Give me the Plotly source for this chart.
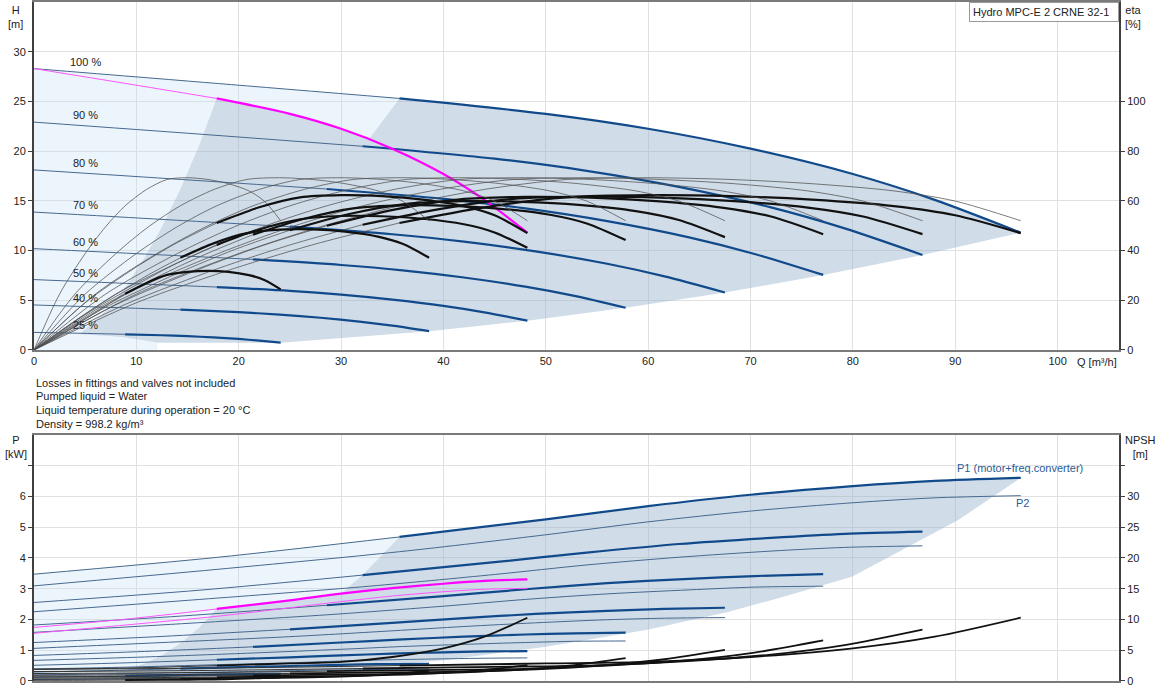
import plotly.graph_objects as go

# ---------------- data ----------------
SPEEDS = ["100 %", "90 %", "80 %", "70 %", "60 %", "50 %", "40 %", "25 %"]

# two pumps in operation: flow points for H, P1, P2 and NPSH curves
Q_2P = {
    "100 %": [0, 18, 35.7, 50, 60, 70, 80, 88, 96.4],
    "90 %": [0, 16.2, 32.1, 45, 54, 63, 72, 79.2, 86.8],
    "80 %": [0, 14.4, 28.6, 40, 48, 56, 64, 70.4, 77.1],
    "70 %": [0, 12.6, 25, 35, 42, 49, 56, 61.6, 67.5],
    "60 %": [0, 10.8, 21.4, 30, 36, 42, 48, 52.8, 57.8],
    "50 %": [0, 9, 17.85, 25, 30, 35, 40, 44, 48.2],
    "40 %": [0, 7.2, 14.3, 20, 24, 28, 32, 35.2, 38.6],
    "25 %": [0, 4.5, 8.9, 12.5, 15, 17.5, 20, 22, 24.1],
}
H_2P = {
    "100 %": [28.3, 26.8, 25.3, 23.75, 22.25, 20.25, 17.7, 15.1, 11.8],
    "90 %": [22.92, 21.71, 20.49, 19.24, 18.02, 16.4, 14.34, 12.23, 9.56],
    "80 %": [18.11, 17.15, 16.19, 15.2, 14.24, 12.96, 11.33, 9.66, 7.55],
    "70 %": [13.87, 13.13, 12.4, 11.64, 10.9, 9.92, 8.67, 7.4, 5.78],
    "60 %": [10.19, 9.65, 9.11, 8.55, 8.01, 7.29, 6.37, 5.44, 4.25],
    "50 %": [7.08, 6.7, 6.33, 5.94, 5.56, 5.06, 4.43, 3.78, 2.95],
    "40 %": [4.53, 4.29, 4.05, 3.8, 3.56, 3.24, 2.83, 2.42, 1.89],
    "25 %": [1.77, 1.68, 1.58, 1.48, 1.39, 1.27, 1.11, 0.94, 0.74],
}
P1_2P = {
    "100 %": [3.47, 4.02, 4.68, 5.25, 5.68, 6.05, 6.33, 6.5, 6.6],
    "90 %": [2.55, 2.95, 3.44, 3.86, 4.17, 4.45, 4.65, 4.78, 4.85],
    "80 %": [1.82, 2.11, 2.46, 2.76, 2.98, 3.18, 3.32, 3.41, 3.47],
    "70 %": [1.25, 1.45, 1.68, 1.89, 2.04, 2.18, 2.28, 2.34, 2.38],
    "60 %": [0.83, 0.96, 1.11, 1.25, 1.35, 1.44, 1.51, 1.55, 1.57],
    "50 %": [0.51, 0.59, 0.69, 0.77, 0.83, 0.89, 0.93, 0.96, 0.97],
    "40 %": [0.29, 0.34, 0.4, 0.45, 0.48, 0.51, 0.54, 0.55, 0.56],
    "25 %": [0.12, 0.14, 0.16, 0.18, 0.2, 0.21, 0.22, 0.23, 0.23],
}
P2_2P = {
    "100 %": [3.09, 3.63, 4.2, 4.75, 5.17, 5.52, 5.79, 5.95, 6.02],
    "90 %": [2.25, 2.65, 3.06, 3.46, 3.77, 4.02, 4.22, 4.34, 4.39],
    "80 %": [1.58, 1.86, 2.15, 2.43, 2.65, 2.83, 2.96, 3.05, 3.08],
    "70 %": [1.06, 1.25, 1.44, 1.63, 1.77, 1.89, 1.99, 2.04, 2.06],
    "60 %": [0.67, 0.78, 0.91, 1.03, 1.12, 1.19, 1.25, 1.29, 1.3],
    "50 %": [0.39, 0.45, 0.53, 0.59, 0.65, 0.69, 0.72, 0.74, 0.75],
    "40 %": [0.2, 0.23, 0.27, 0.3, 0.33, 0.35, 0.37, 0.38, 0.39],
    "25 %": [0.048, 0.057, 0.066, 0.074, 0.081, 0.087, 0.091, 0.093, 0.094],
}
NPSH_2P = {
    "100 %": [1.9, 2.1, 2.5, 2.85, 3.1, 3.9, 5.3, 7.2, 10.28],
    "90 %": [1.54, 1.7, 2.03, 2.31, 2.51, 3.16, 4.29, 5.83, 8.33],
    "80 %": [1.22, 1.34, 1.6, 1.82, 1.98, 2.5, 3.39, 4.61, 6.58],
    "70 %": [0.93, 1.03, 1.23, 1.4, 1.52, 1.91, 2.6, 3.53, 5.04],
    "60 %": [0.68, 0.76, 0.9, 1.03, 1.12, 1.4, 1.91, 2.59, 3.7],
    "50 %": [0.48, 0.53, 0.63, 0.71, 0.78, 0.98, 1.33, 1.8, 2.57],
    "40 %": [0.3, 0.34, 0.4, 0.46, 0.5, 0.62, 0.85, 1.15, 1.64],
    "25 %": [0.12, 0.13, 0.16, 0.18, 0.19, 0.24, 0.33, 0.45, 0.64],
}

# efficiency curves (two pumps)
Q_ETA_2P = {
    "100 %": [0, 10, 20, 28, 35.7, 44, 52, 60, 68, 76, 84, 90, 96.4],
    "90 %": [0, 9, 18, 25.2, 32.1, 39.6, 46.8, 54, 61.2, 68.4, 75.6, 81, 86.8],
    "80 %": [0, 8, 16, 22.4, 28.6, 35.2, 41.6, 48, 54.4, 60.8, 67.2, 72, 77.1],
    "70 %": [0, 7, 14, 19.6, 25, 30.8, 36.4, 42, 47.6, 53.2, 58.8, 63, 67.5],
    "60 %": [0, 6, 12, 16.8, 21.4, 26.4, 31.2, 36, 40.8, 45.6, 50.4, 54, 57.8],
    "50 %": [0, 5, 10, 14, 17.85, 22, 26, 30, 34, 38, 42, 45, 48.2],
    "40 %": [0, 4, 8, 11.2, 14.3, 17.6, 20.8, 24, 27.2, 30.4, 33.6, 36, 38.6],
    "25 %": [0, 2.5, 5, 7, 8.9, 11, 13, 15, 17, 19, 21, 22.5, 24.1],
}
ETA_HYD = [0, 22.5, 38.8, 49.6, 58.0, 64.6, 68.6, 69.3, 68.6, 66.9, 64.0, 59.9, 52.0]
ETA_TOT_2P = {
    "100 %": [0, 19.0, 33.4, 43.2, 51.1, 57.4, 61.4, 62.3, 61.9, 60.5, 57.9, 54.2, 47.0],
    "90 %": [0, 18.5, 32.8, 42.5, 50.4, 56.7, 60.8, 61.7, 61.3, 59.9, 57.3, 53.7, 46.6],
    "80 %": [0, 18.2, 32.3, 42.1, 50.0, 56.5, 60.6, 61.6, 61.3, 59.9, 57.3, 53.7, 46.6],
    "70 %": [0, 17.2, 30.8, 40.4, 48.2, 54.7, 58.8, 59.9, 59.6, 58.4, 55.9, 52.3, 45.4],
    "60 %": [0, 16.1, 29.3, 38.6, 46.4, 52.8, 57.0, 58.2, 58.0, 56.8, 54.4, 50.9, 44.2],
    "50 %": [0, 14.2, 26.2, 35.0, 42.3, 48.5, 52.6, 53.9, 53.8, 52.8, 50.6, 47.3, 41.1],
    "40 %": [0, 11.7, 22.4, 30.3, 37.1, 43.0, 47.0, 48.4, 48.5, 47.6, 45.6, 42.7, 37.1],
    "25 %": [0, 5.8, 12.4, 17.7, 22.6, 27.0, 30.2, 31.4, 31.8, 31.4, 30.1, 28.2, 24.4],
}

# one pump at 100 % speed (magenta / extra curves)
Q_1P = [0, 9, 17.85, 25, 30, 35, 40, 44, 48.2]
H_1P = [28.3, 26.8, 25.3, 23.75, 22.25, 20.25, 17.7, 15.1, 11.8]
P1_1P = [1.74, 2.01, 2.34, 2.62, 2.84, 3.02, 3.16, 3.25, 3.3]
P2_1P = [1.55, 1.82, 2.1, 2.38, 2.58, 2.76, 2.9, 2.98, 3.01]
NPSH_1P = [1.9, 2.1, 2.5, 2.85, 3.1, 3.9, 5.3, 7.2, 10.28]
Q_ETA_1P = [0, 5, 10, 14, 17.85, 22, 26, 30, 34, 38, 42, 45, 48.2]
ETA_TOT_1P = [0, 19.0, 33.4, 43.2, 51.1, 57.4, 61.4, 62.3, 61.9, 60.5, 57.9, 54.2, 47.0]

# operating areas
TOP_GRAY_Q = [17.85, 20, 25, 30, 32.7, 34, 35.7, 40, 45, 50, 55, 60, 65, 70, 75, 80, 84, 88, 92, 96.4,
              86.8, 77.1, 67.5, 57.8, 48.2, 38.6, 24.1, 12.05, 11, 10, 8.75, 7.5, 6.25, 4.46,
              7.14, 8.93, 10.7, 12.5, 14.3, 16.1, 17.85]
TOP_GRAY_H = [25.3, 24.83, 23.75, 22.25, 21.2, 22.95, 25.3, 24.83, 24.29, 23.75, 23.0, 22.25, 21.25, 20.25, 19.0, 17.7, 16.4, 15.1, 13.55, 11.8,
              9.56, 7.55, 5.78, 4.25, 2.95, 1.89, 0.74, 0.74, 0.94, 1.11, 1.27, 1.39, 1.48, 1.58,
              4.05, 6.33, 9.11, 12.4, 16.19, 20.5, 25.3]
TOP_LIGHT_Q = [0, 0, 18, 35.7, 34, 32.7, 30, 25, 20, 17.85, 16.1, 14.3, 12.5, 10.7, 8.93, 7.14, 4.46,
               6.25, 7.5, 8.75, 10, 11, 12.05, 12.05, 0]
TOP_LIGHT_H = [0, 28.3, 26.8, 25.3, 22.95, 21.2, 22.25, 23.75, 24.83, 25.3, 20.5, 16.19, 12.4, 9.11, 6.33, 4.05, 1.58,
               1.48, 1.39, 1.27, 1.11, 0.94, 0.74, 0, 0]
BOT_GRAY_Q = [35.7, 45, 50, 60, 70, 80, 88, 96.4, 90.3, 79.9, 72.8, 67.9, 59.8, 50, 40.3, 30, 24.1, 12.05, 4.46,
              7.14, 8.93, 10.7, 12.5, 14.3, 16.1, 17.85, 20, 25, 30, 32.1, 35.7]
BOT_GRAY_P = [4.68, 5.06, 5.25, 5.68, 6.05, 6.33, 6.5, 6.6, 5.23, 3.39, 2.7, 2.25, 1.66, 1.11, 0.68, 0.38, 0.23, 0.115, 0.082,
              0.2, 0.34, 0.56, 0.84, 1.23, 1.72, 2.34, 2.42, 2.62, 2.84, 3.44, 4.68]
BOT_LIGHT_Q = [0, 0, 18, 35.7, 32.1, 30, 25, 20, 17.85, 16.1, 14.3, 12.5, 10.7, 8.93, 7.14, 4.46, 12.05, 12.05, 0]
BOT_LIGHT_P = [0, 3.47, 4.02, 4.68, 3.44, 2.84, 2.62, 2.42, 2.34, 1.72, 1.23, 0.84, 0.56, 0.34, 0.2, 0.082, 0.115, 0, 0]

Q_TICKS = [0, 10, 20, 30, 40, 50, 60, 70, 80, 90, 100]
H_TICKS = [0, 5, 10, 15, 20, 25, 30]
ETA_TICKS = [0, 20, 40, 60, 80, 100]
P_TICKS = [0, 1, 2, 3, 4, 5, 6, 7]
P_LABELS = ["0", "1", "2", "3", "4", "5", "6", ""]
NPSH_TICKS = [0, 5, 10, 15, 20, 25, 30, 35]
NPSH_LABELS = ["0", "5", "10", "15", "20", "25", "30", ""]

NOTES = ["Losses in fittings and valves not included",
         "Pumped liquid = Water",
         "Liquid temperature during operation = 20 \u00b0C",
         "Density = 998.2 kg/m\u00b3"]
TITLE_BOX = "Hydro MPC-E 2 CRNE 32-1"

MIN_HP = 2    # index where the operating (thick) part starts
MIN_ETA = 4

# ---------------- styles ----------------
FONT = "Liberation Sans, Arial, sans-serif"
BLUE_THICK = "#114A8B"
BLUE_THIN = "#46698F"
BLACK = "#111111"
ETA_THIN = "rgba(80,80,80,0.75)"
MAGENTA = "#FF00FF"
MAGENTA_THIN = "#FF55FF"
GRAY_FILL = "rgba(150,178,205,0.45)"
LIGHT_FILL = "rgba(200,225,245,0.32)"
GRID = "#E0E0E0"

fig = go.Figure()


def line(x, y, xa, ya, color, width):
    fig.add_trace(go.Scatter(x=x, y=y, mode="lines", xaxis=xa, yaxis=ya,
                             line=dict(color=color, width=width, shape="spline", smoothing=0.8),
                             hoverinfo="skip", showlegend=False))


def area(x, y, xa, ya, color):
    fig.add_trace(go.Scatter(x=x, y=y, mode="lines", fill="toself", fillcolor=color,
                             xaxis=xa, yaxis=ya, line=dict(width=0),
                             hoverinfo="skip", showlegend=False))


# ---------- top panel ----------
area(TOP_LIGHT_Q, TOP_LIGHT_H, "x", "y", LIGHT_FILL)
area(TOP_GRAY_Q, TOP_GRAY_H, "x", "y", GRAY_FILL)

for s in SPEEDS:
    q, h = Q_2P[s], H_2P[s]
    line(q[:MIN_HP + 1], h[:MIN_HP + 1], "x", "y", BLUE_THIN, 1)
    line(q[MIN_HP:], h[MIN_HP:], "x", "y", BLUE_THICK, 2.2)

line(Q_1P[:MIN_HP + 1], H_1P[:MIN_HP + 1], "x", "y", MAGENTA_THIN, 1)
line(Q_1P[MIN_HP:], H_1P[MIN_HP:], "x", "y", MAGENTA, 2.2)

for s in SPEEDS:
    qe = Q_ETA_2P[s]
    line(qe, ETA_HYD, "x", "y2", ETA_THIN, 1)
    et = ETA_TOT_2P[s]
    line(qe[:MIN_ETA + 1], et[:MIN_ETA + 1], "x", "y2", ETA_THIN, 1)
    line(qe[MIN_ETA:], et[MIN_ETA:], "x", "y2", BLACK, 2.2)

line(Q_ETA_1P[:MIN_ETA + 1], ETA_TOT_1P[:MIN_ETA + 1], "x", "y2", ETA_THIN, 1)
line(Q_ETA_1P[MIN_ETA:], ETA_TOT_1P[MIN_ETA:], "x", "y2", BLACK, 2.2)

# ---------- bottom panel ----------
area(BOT_LIGHT_Q, BOT_LIGHT_P, "x2", "y3", LIGHT_FILL)
area(BOT_GRAY_Q, BOT_GRAY_P, "x2", "y3", GRAY_FILL)

for s in SPEEDS:
    q = Q_2P[s]
    line(q, P2_2P[s], "x2", "y3", BLUE_THIN, 1)
    p1 = P1_2P[s]
    line(q[:MIN_HP + 1], p1[:MIN_HP + 1], "x2", "y3", BLUE_THIN, 1)
    line(q[MIN_HP:], p1[MIN_HP:], "x2", "y3", BLUE_THICK, 2.2)

line(Q_1P, P2_1P, "x2", "y3", MAGENTA_THIN, 1)
line(Q_1P[:MIN_HP + 1], P1_1P[:MIN_HP + 1], "x2", "y3", MAGENTA_THIN, 1)
line(Q_1P[MIN_HP:], P1_1P[MIN_HP:], "x2", "y3", MAGENTA, 2.2)

for s in SPEEDS:
    q, n = Q_2P[s], NPSH_2P[s]
    line(q[:MIN_HP + 1], n[:MIN_HP + 1], "x2", "y4", "#333333", 1)
    line(q[MIN_HP:], n[MIN_HP:], "x2", "y4", BLACK, 1.8)
line(Q_1P[:MIN_HP + 1], NPSH_1P[:MIN_HP + 1], "x2", "y4", "#333333", 1)
line(Q_1P[MIN_HP:], NPSH_1P[MIN_HP:], "x2", "y4", BLACK, 1.8)

# ---------------- layout ----------------
tick_font = dict(family=FONT, size=11, color="#222222")
x_common = dict(range=[0, 106], tickvals=Q_TICKS, showgrid=True, gridcolor=GRID, gridwidth=1,
                showline=True, linecolor="#7a7a7a", linewidth=1.5, mirror=True,
                zeroline=False, ticks="", tickfont=tick_font)
y_common = dict(showline=True, linecolor="#404040", linewidth=2, zeroline=False,
                ticks="outside", ticklen=4, tickcolor="#404040", tickfont=tick_font)

TOP_DOMAIN = [0.4875, 1.0]
BOT_DOMAIN = [0.0, 0.3627]

fig.update_layout(
    width=1162, height=700,
    margin=dict(l=34, r=43, t=0, b=19),
    paper_bgcolor="white", plot_bgcolor="white",
    showlegend=False,
    font=dict(family=FONT, size=11, color="#222222"),
    xaxis=dict(domain=[0, 1], anchor="y", **x_common),
    yaxis=dict(domain=TOP_DOMAIN, anchor="x", range=[0, 35], tickvals=H_TICKS,
               showgrid=True, gridcolor=GRID, **y_common),
    yaxis2=dict(overlaying="y", anchor="x", side="right", range=[0, 140], tickvals=ETA_TICKS,
                showgrid=False, **y_common),
    xaxis2=dict(domain=[0, 1], anchor="y3", showticklabels=False, **x_common),
    yaxis3=dict(domain=BOT_DOMAIN, anchor="x2", range=[0, 8], tickvals=P_TICKS, ticktext=P_LABELS,
                showgrid=True, gridcolor=GRID, **y_common),
    yaxis4=dict(overlaying="y3", anchor="x2", side="right", range=[0, 40], tickvals=NPSH_TICKS,
                ticktext=NPSH_LABELS, showgrid=False, **y_common),
)

ann = []
small = dict(family=FONT, size=11, color="#222222")
for s in SPEEDS:
    ann.append(dict(x=5, y=H_2P[s][0] + 0.7, xref="x", yref="y", text=s, showarrow=False,
                    font=small, xanchor="center", yanchor="middle"))
ann.append(dict(x=-0.0166, y=1.0, xref="paper", yref="paper", text="H<br>[m]", showarrow=False,
                font=small, xanchor="center", yanchor="top", align="center"))
ann.append(dict(x=1.0129, y=1.0, xref="paper", yref="paper", text="eta<br>[%]", showarrow=False,
                font=small, xanchor="center", yanchor="top", align="center"))
ann.append(dict(x=0.9594, y=0.4699, xref="paper", yref="paper", text="Q [m\u00b3/h]", showarrow=False,
                font=small, xanchor="left", yanchor="middle"))
ann.append(dict(x=1.0, y=1.0, xref="paper", yref="paper", text=TITLE_BOX, showarrow=False,
                font=small, xanchor="right", yanchor="top", align="left",
                bordercolor="#9a9a9a", borderwidth=1, borderpad=3, bgcolor="white", width=142))
for i, t in enumerate(NOTES):
    ann.append(dict(x=0.0, y=0.4391 - i * 0.0201, xref="paper", yref="paper", text=t, showarrow=False,
                    font=small, xanchor="left", yanchor="middle"))
ann.append(dict(x=-0.0166, y=0.367, xref="paper", yref="paper", text="P<br>[kW]", showarrow=False,
                font=small, xanchor="center", yanchor="top", align="center"))
ann.append(dict(x=1.0194, y=0.367, xref="paper", yref="paper", text="NPSH<br>[m]", showarrow=False,
                font=small, xanchor="center", yanchor="top", align="center"))
ann.append(dict(x=90.0, y=6.91, xref="x2", yref="y3", text="P1 (motor+freq.converter)", showarrow=False,
                font=dict(family=FONT, size=11, color="#2A5C94"), xanchor="left", yanchor="middle"))
ann.append(dict(x=95.7, y=5.77, xref="x2", yref="y3", text="P2", showarrow=False,
                font=dict(family=FONT, size=11, color="#2A5C94"), xanchor="left", yanchor="middle"))
fig.update_layout(annotations=ann)

fig.write_html("out.html")
